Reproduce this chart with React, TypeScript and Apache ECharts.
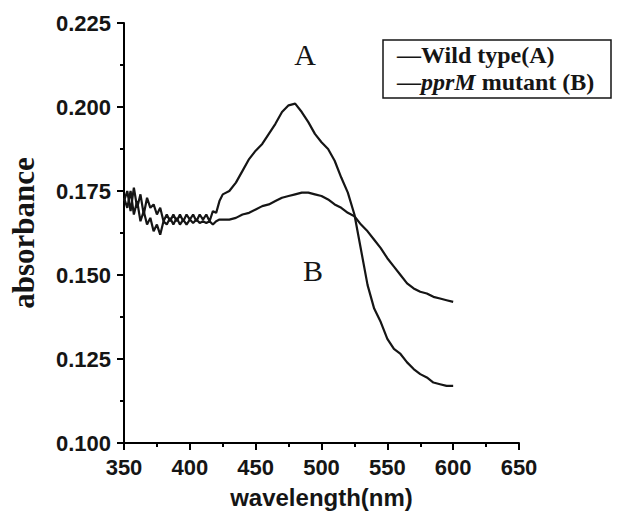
import React, { useEffect, useRef } from "react";
import * as echarts from "echarts";

const wavelengths = [
  350, 352.5, 355, 357.5, 360, 362.5, 365, 367.5, 370, 372.5, 375, 377.5, 380, 382.5, 385, 387.5,
  390, 392.5, 395, 397.5, 400, 402.5, 405, 407.5, 410, 412.5, 415, 417.5, 420, 422.5, 425,
  430, 435, 440, 445, 450, 455, 460, 465, 470, 475, 480, 485, 490, 495, 500, 505, 510, 515,
  520, 525, 530, 535, 540, 545, 550, 555, 560, 565, 570, 575, 580, 585, 590, 595, 600,
];

const wildTypeA = [
  0.172, 0.175, 0.169, 0.176, 0.17, 0.174, 0.168, 0.173, 0.17, 0.171, 0.168, 0.17, 0.166, 0.168, 0.166, 0.168,
  0.166, 0.168, 0.166, 0.168, 0.1665, 0.168, 0.166, 0.168, 0.1665, 0.168, 0.166, 0.169, 0.1685, 0.172, 0.174,
  0.175, 0.1775, 0.181, 0.1845, 0.187, 0.189, 0.192, 0.195, 0.1985, 0.2005, 0.201, 0.1985, 0.1955, 0.192,
  0.1895, 0.1875, 0.184, 0.179, 0.1745, 0.168, 0.1575, 0.147, 0.14, 0.136, 0.131, 0.128, 0.1265, 0.124,
  0.122, 0.1205, 0.1195, 0.118, 0.1175, 0.117, 0.117,
];

const mutantB = [
  0.173, 0.17, 0.175, 0.168, 0.172, 0.166, 0.169, 0.165, 0.167, 0.163, 0.165, 0.162, 0.166, 0.165, 0.167, 0.165,
  0.167, 0.165, 0.1665, 0.165, 0.1665, 0.1655, 0.1665, 0.1655, 0.166, 0.1655, 0.166, 0.165, 0.166, 0.1665, 0.1665,
  0.1665, 0.167, 0.168, 0.1685, 0.1695, 0.1705, 0.171, 0.172, 0.173, 0.1735, 0.174, 0.1745, 0.1745, 0.174,
  0.1735, 0.1725, 0.171, 0.17, 0.1685, 0.1675, 0.165, 0.163, 0.1605, 0.158, 0.155, 0.1525, 0.15, 0.1475,
  0.146, 0.145, 0.1445, 0.1435, 0.143, 0.1425, 0.142,
];

const seriesNames = ["Wild type(A)", "pprM mutant (B)"];

const ink = "#151515";
const axisInk = "#000000";
const serif = "'Liberation Serif', 'Times New Roman', serif";
const sans = "'Liberation Sans', Arial, sans-serif";

const GRID = { left: 124, right: 100, top: 23, bottom: 68 };
const W = 619;
const H = 511;

function axisParts() {
  return {
    axisLine: { show: true, onZero: false, lineStyle: { color: axisInk, width: 2, opacity: 1 } },
    axisTick: { show: true, inside: false, length: 7, lineStyle: { color: axisInk, width: 2, opacity: 1 } },
    minorTick: { show: true, splitNumber: 2, length: 4, lineStyle: { color: axisInk, width: 2, opacity: 1 } },
    splitLine: { show: false },
    minorSplitLine: { show: false },
  };
}

export default function App() {
  const ref = useRef<HTMLDivElement>(null);
  useEffect(() => {
    if (!ref.current) return;
    const chart = echarts.init(ref.current, null, { renderer: "svg" });
    chart.setOption({
      animation: false,
      backgroundColor: "#ffffff",
      grid: { ...GRID, outerBoundsMode: "none" },
      xAxis: {
        type: "value",
        min: 350,
        max: 650,
        interval: 50,
        ...axisParts(),
        axisLabel: { color: ink, fontFamily: sans, fontWeight: "bold", fontSize: 22, margin: 13 },
        name: "wavelength(nm)",
        nameLocation: "middle",
        nameGap: 42,
        nameTextStyle: { color: ink, fontFamily: sans, fontWeight: "bold", fontSize: 24 },
      },
      yAxis: {
        type: "value",
        min: 0.1,
        max: 0.225,
        interval: 0.025,
        ...axisParts(),
        axisLabel: {
          color: ink,
          fontFamily: sans,
          fontWeight: "bold",
          fontSize: 22,
          margin: 13,
          formatter: (v: number) => v.toFixed(3),
        },
        name: "absorbance",
        nameLocation: "middle",
        nameGap: 85,
        nameTextStyle: { color: ink, fontFamily: serif, fontWeight: "bold", fontSize: 31 },
      },
      series: [
        {
          name: seriesNames[0],
          type: "line",
          showSymbol: false,
          data: wavelengths.map((w, i) => [w, wildTypeA[i]]),
          lineStyle: { color: ink, width: 2.2 },
        },
        {
          name: seriesNames[1],
          type: "line",
          showSymbol: false,
          data: wavelengths.map((w, i) => [w, mutantB[i]]),
          lineStyle: { color: ink, width: 2.2 },
        },
      ],
      graphic: [
        {
          type: "rect",
          shape: { x: 383, y: 40, width: 228, height: 58 },
          style: { fill: "#ffffff", stroke: ink, lineWidth: 1.5 },
        },
        {
          type: "text",
          x: 397,
          y: 55,
          style: {
            text: "—" + seriesNames[0],
            fontFamily: serif,
            fontWeight: "bold",
            fontSize: 24,
            fill: ink,
            verticalAlign: "middle",
          },
        },
        {
          type: "text",
          x: 397,
          y: 82,
          style: {
            text: "—{i|pprM} mutant (B)",
            fontFamily: serif,
            fontWeight: "bold",
            fontSize: 24,
            fill: ink,
            verticalAlign: "middle",
            rich: {
              i: { fontFamily: serif, fontWeight: "bold", fontStyle: "italic", fontSize: 24, fill: ink },
            },
          },
        },
        {
          type: "text",
          x: 305,
          y: 54,
          style: { text: "A", fontFamily: serif, fontSize: 30, fill: ink, align: "center", verticalAlign: "middle" },
        },
        {
          type: "text",
          x: 313,
          y: 270,
          style: { text: "B", fontFamily: serif, fontSize: 30, fill: ink, align: "center", verticalAlign: "middle" },
        },
      ],
    });
    return () => chart.dispose();
  }, []);
  return (
    <div
      ref={ref}
      style={{ position: "fixed", left: 0, top: 0, width: W, height: H, background: "#fff" }}
    />
  );
}
